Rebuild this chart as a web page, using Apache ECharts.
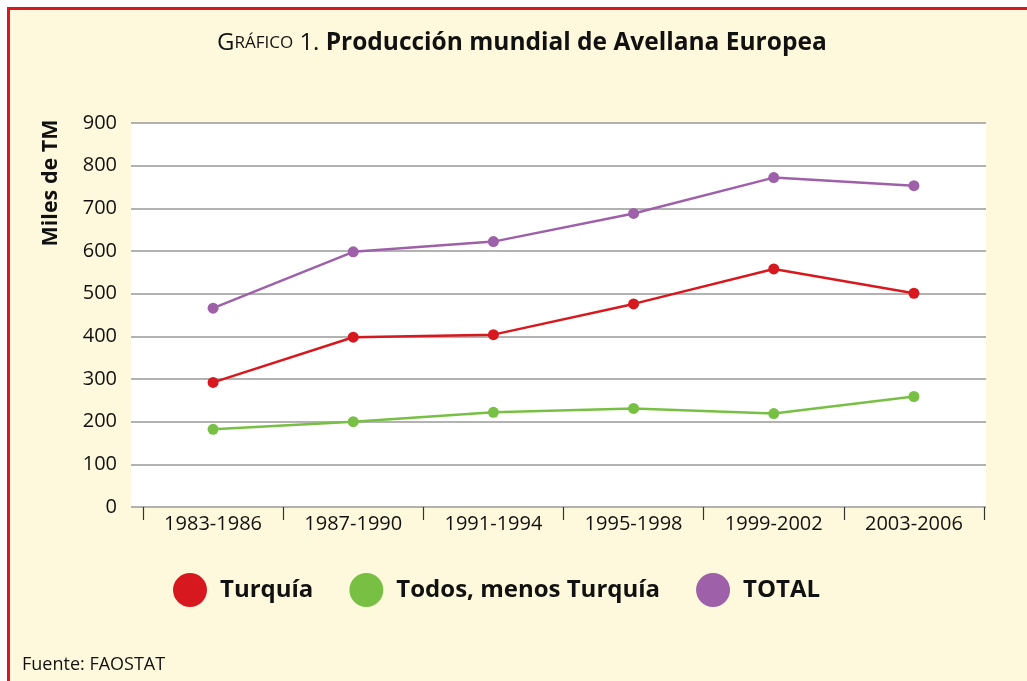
<!DOCTYPE html>
<html>
<head>
<meta charset="utf-8">
<script src="https://cdn.jsdelivr.net/npm/echarts@6/dist/echarts.min.js"></script>
<style>
html,body{margin:0;padding:0;background:#fff;}
#chart{width:1027px;height:681px;}
</style>
</head>
<body>
<div id="chart"></div>
<script>
const categories = ['1983-1986','1987-1990','1991-1994','1995-1998','1999-2002','2003-2006'];
const turquia = [292, 398, 404, 476, 558, 501];
const todosMenosTurquia = [182, 200, 222, 231, 219, 259];
const total = [466, 598, 622, 688, 772, 753];
const yTicks = [0, 100, 200, 300, 400, 500, 600, 700, 800, 900];

const FONT = '"Open Sans", "Noto Sans", sans-serif';
const RED = '#D7191F', GREEN = '#78C043', PURPLE = '#9E60A9';

const chart = echarts.init(document.getElementById('chart'));
const lineSeries = (name, data, color) => ({
  name, type: 'line', data, xAxisIndex: 0, yAxisIndex: 0,
  symbol: 'circle', symbolSize: 11,
  lineStyle: { color, width: 2.5 },
  itemStyle: { color },
  z: 5
});

chart.setOption({
  backgroundColor: '#ffffff',
  animation: false,
  graphic: [
    { type: 'rect', z: -10, shape: { x: 8.5, y: 8.5, width: 1100, height: 800 },
      style: { fill: '#FEF9DC', stroke: '#D7191F', lineWidth: 3 } },
    { type: 'text', x: 51, y: 183, rotation: Math.PI / 2,
      style: { text: 'Miles de TM', font: 'bold 21.5px ' + FONT, fill: '#111', align: 'center', verticalAlign: 'middle' } },
    { type: 'text', x: 22, y: 665,
      style: { text: 'Fuente: FAOSTAT', font: '18px ' + FONT, fill: '#111', align: 'left', verticalAlign: 'middle' } }
  ],
  title: {
    left: 212, top: 26,
    text: '{a|G}{b|RÁFICO}{a| 1. }{c|Producción mundial de Avellana Europea}',
    textStyle: {
      rich: {
        a: { fontFamily: FONT, fontSize: 24, fontWeight: 'normal', color: '#111' },
        b: { fontFamily: FONT, fontSize: 17, fontWeight: 'normal', color: '#111' },
        c: { fontFamily: FONT, fontSize: 24.5, fontWeight: 'bold', color: '#111' }
      }
    }
  },
  legend: {
    left: 168, top: 568,
    icon: 'circle', itemWidth: 34, itemHeight: 34, itemGap: 36,
    textStyle: { fontFamily: FONT, fontSize: 24, fontWeight: 'bold', color: '#111', padding: [0, 0, 0, 8] },
    data: ['Turquía', 'Todos, menos Turquía', 'TOTAL']
  },
  grid: [
    { left: 143, right: 43, top: 123, bottom: 174, containLabel: false },
    { left: 131, right: 41, top: 123, bottom: 174, show: true, backgroundColor: '#ffffff', borderWidth: 0, z: 0 }
  ],
  xAxis: [
    { type: 'category', gridIndex: 0, data: categories, boundaryGap: true,
      axisLine: { show: false },
      axisTick: { show: true, length: 13, lineStyle: { color: '#333', width: 1.2 } },
      axisLabel: { fontFamily: FONT, fontSize: 20, color: '#111', margin: 7 } },
    { type: 'value', gridIndex: 1, show: false, min: 0, max: 1 }
  ],
  yAxis: [
    { type: 'value', gridIndex: 0, min: 0, max: 900, interval: 100, show: false },
    { type: 'value', gridIndex: 1, min: yTicks[0], max: yTicks[yTicks.length - 1], interval: 100,
      axisLine: { show: false }, axisTick: { show: false },
      splitLine: { show: true, lineStyle: { color: '#999999', width: 1.5 } },
      axisLabel: { fontFamily: FONT, fontSize: 20, color: '#111', margin: 14 } }
  ],
  series: [
    lineSeries('Turquía', turquia, RED),
    lineSeries('Todos, menos Turquía', todosMenosTurquia, GREEN),
    lineSeries('TOTAL', total, PURPLE)
  ]
});
</script>
</body>
</html>
